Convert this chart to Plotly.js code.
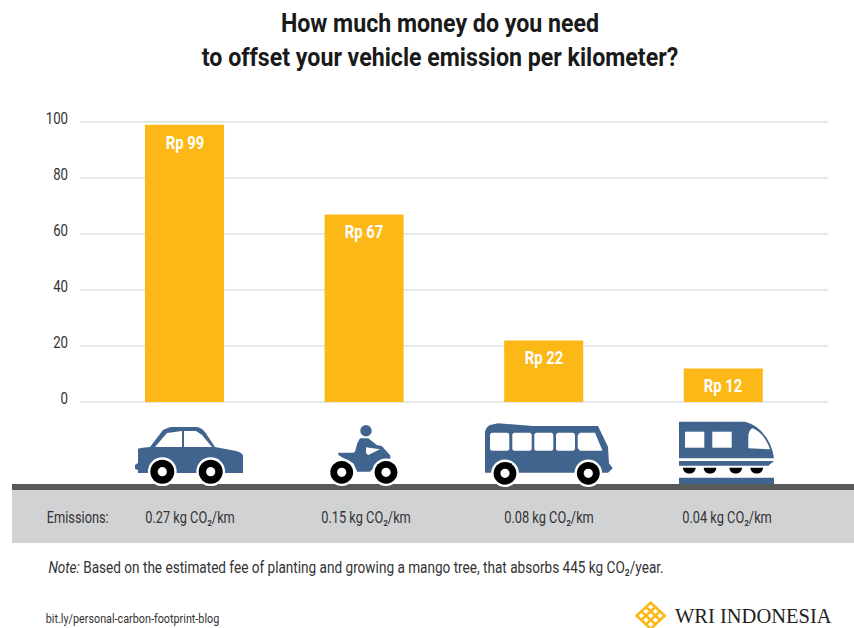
<!DOCTYPE html>
<html>
<head>
<meta charset="utf-8">
<script src="https://cdn.plot.ly/plotly-3.0.1.min.js"></script>
<style>html,body{margin:0;padding:0;background:#fff}#chart{width:854px;height:628px}</style>
</head>
<body>
<div id="chart"></div>
<script>
// Data
const vehicles = ["Car", "Motorcycle", "Bus", "Train"];
const offsetCost = [99, 67, 22, 12];
const costLabels = ["Rp 99", "Rp 67", "Rp 22", "Rp 12"];
const emissionLabels = ["0.27 kg CO₂/km", "0.15 kg CO₂/km", "0.08 kg CO₂/km", "0.04 kg CO₂/km"];
const yTicks = [0, 20, 40, 60, 80, 100];

// Page geometry
const W = 854, H = 628;
const SANS = 'Roboto, "Liberation Sans", sans-serif';
const BLUE = "#41648f", AMBER = "#fbb817", INK = "#333333";
const plotBox = {left: 80, right: 828, top: 119.2, bottom: 402};
const yRange = [0, 101];
const emissionCentres = [190, 366, 549, 727];

const fx = x => +(x / W).toFixed(5);
const fy = y => +(1 - y / H).toFixed(5);

// Turns an absolute page-pixel path into paper coordinates
function toPaper(d) {
  return d.replace(/(-?[\d.]+),(-?[\d.]+)/g, (_, x, y) => fx(+x) + "," + fy(+y));
}
function poly(pts) { return "M" + pts.join(" L") + " Z"; }
function pathShape(d, fill) {
  return {type: "path", xref: "paper", yref: "paper", path: toPaper(d), fillcolor: fill, line: {width: 0}, layer: "above"};
}
function rectShape(x0, y0, x1, y1, fill) {
  return {type: "rect", xref: "paper", yref: "paper", x0: fx(x0), x1: fx(x1), y0: fy(y1), y1: fy(y0), fillcolor: fill, line: {width: 0}, layer: "above"};
}
function circle(cx, cy, r, fill) {
  return {type: "circle", xref: "paper", yref: "paper", x0: fx(cx - r), x1: fx(cx + r), y0: fy(cy + r), y1: fy(cy - r), fillcolor: fill, line: {width: 0}, layer: "above"};
}
function wheel(cx, cy, r) {
  return [circle(cx, cy, r + 2.4, "#ffffff"), circle(cx, cy, r, "#000000"), circle(cx, cy, 4.6, "#ffffff")];
}
function roundBox(x0, y0, x1, y1, r) {
  return `M${x0 + r},${y0} L${x1 - r},${y0} Q${x1},${y0} ${x1},${y0 + r} L${x1},${y1 - r} Q${x1},${y1} ${x1 - r},${y1} L${x0 + r},${y1} Q${x0},${y1} ${x0},${y1 - r} L${x0},${y0 + r} Q${x0},${y0} ${x0 + r},${y0} Z`;
}
function halfDisc(cx, top, r) {
  return `M${cx - r},${top} L${cx + r},${top} C${cx + r},${top + r * 1.25} ${cx - r},${top + r * 1.25} ${cx - r},${top} Z`;
}

// Vehicle pictograms
const car = [
  pathShape("M135,465 L138,463 L138,449 Q138,448 150,447 L163,430 Q167,428 171,427 L197,427 Q202,428 205,432 L215,447 L236,451 Q243,453 243,456 L243,473 L138,473 L138,470 L135,469 Z", BLUE),
  pathShape(poly(["155,447", "167,433", "182,431", "182,447"]), "#ffffff"),
  pathShape(poly(["184,431", "196,431", "202,435", "212,447", "184,447"]), "#ffffff"),
  ...wheel(162.3, 471.7, 12), ...wheel(210.7, 471.7, 12)
];
const motorcycle = [
  circle(366, 430.7, 5.7, BLUE),
  pathShape(poly(["357.3,443.3", "360,438.3", "368.3,438.3", "376.7,445", "381.7,446", "390,455", "390.7,458.3", "380,461.7", "370,471.7", "357.3,471.7", "353.3,463.3", "346.7,460", "338.3,455", "338.3,452.7", "353.3,452.7", "355,451.7"]), BLUE),
  pathShape(poly(["366,447.3", "380,449.3", "368.3,455", "366,453.3"]), "#ffffff"),
  ...wheel(341.7, 472.3, 11.4), ...wheel(386, 472.3, 11.4)
];
const bus = [
  pathShape("M485,431.7 Q486,427 490,425 L498,423.3 L533,426 L598,426 L608,446.7 L609,463.3 L612.7,468.3 L608,472.7 L485,472.7 Z", BLUE),
  pathShape(roundBox(490, 432.7, 509.3, 450.7, 2.5), "#ffffff"),
  pathShape(roundBox(512.3, 432.7, 531.7, 450.7, 2.5), "#ffffff"),
  pathShape(roundBox(534.3, 432.7, 553.3, 450.7, 2.5), "#ffffff"),
  pathShape(roundBox(556, 432.7, 575, 450.7, 2.5), "#ffffff"),
  pathShape(poly(["580,432.7", "595,432.7", "602.5,450.7", "580,450.7", "577.7,448", "577.7,435"]), "#ffffff"),
  ...wheel(505, 473.3, 11.4), ...wheel(588.3, 473.3, 11.4)
];
const train = [
  pathShape("M679,421.7 L745,421.7 Q754,424 760,430 Q772,442 774,458.3 L679,458.3 Z", BLUE),
  rectShape(685, 431.7, 704.3, 447.7, "#ffffff"),
  rectShape(712.3, 431.7, 731.7, 447.7, "#ffffff"),
  pathShape("M748.3,448.3 L748.3,435 Q750,428 753,428.3 Q765,434 770,449.3 Z", "#ffffff"),
  pathShape(poly(["679,461", "774,461", "768.3,465.7", "679,465.7"]), BLUE),
  ...[689.3, 710, 735.7, 756.7].map(x => pathShape(halfDisc(x, 467.7, 6.3), "#000000")),
  rectShape(679, 477.7, 774, 484, BLUE)
];

// Woven diamond of the logo
function logoMark(cx, cy, rx, ry) {
  const out = [];
  const at = (u, v) => (cx + (u - v) * rx / 2) + "," + (cy + (u + v) * ry / 2);
  [-0.9, -0.3, 0.3, 0.9].forEach(k => {
    const segA = `M${at(k, -1)} L${at(k, 1)}`;
    const segB = `M${at(-1, k)} L${at(1, k)}`;
    [segA, segB].forEach(d => out.push({type: "path", xref: "paper", yref: "paper", path: toPaper(d), line: {color: AMBER, width: 2.6}, layer: "above"}));
  });
  return out;
}

const shapes = [
  rectShape(12, 490, W, 543, "#d1d2d4"),
  rectShape(12, 484, W, 490, "#58595b"),
  ...car, ...motorcycle, ...bus, ...train,
  ...logoMark(650.7, 615.7, 15.5, 14.5)
];

function pageText(x, y, text, size, opts) {
  return Object.assign({
    xref: "paper", yref: "paper", x: fx(x), y: fy(y), text: text, showarrow: false,
    xanchor: "center", yanchor: "middle", borderpad: 0,
    font: {family: SANS, size: size, color: INK}
  }, opts || {});
}

const annotations = [
  // Values on the bars
  ...vehicles.map((v, i) => ({
    xref: "x", yref: "y", x: v, y: offsetCost[i], yshift: -18, text: costLabels[i], showarrow: false,
    font: {family: SANS, size: 18.5, color: "#ffffff", weight: 700}
  })),
  // Emission strip
  pageText(78, 517, "Emissions:", 16),
  ...emissionLabels.map((t, i) => pageText(emissionCentres[i], 517, t, 16)),
  // Footer
  pageText(355.5, 567, "<i>Note:</i> Based on the estimated fee of planting and growing a mango tree, that absorbs 445 kg CO₂/year.", 17),
  pageText(132.5, 618, "bit.ly/personal-carbon-footprint-blog", 13.5),
  pageText(753.5, 616, "WRI INDONESIA", 20.5, {font: {family: '"Liberation Serif", serif', size: 20.5, color: "#231f20"}})
];

const layout = {
  width: W, height: H,
  margin: {l: 0, r: 0, t: 0, b: 0},
  paper_bgcolor: "#ffffff", plot_bgcolor: "rgba(0,0,0,0)",
  showlegend: false,
  bargap: 0.56,
  title: {
    text: "How much money do you need<br>to offset your vehicle emission per kilometer?",
    font: {family: SANS, size: 26.5, color: "#1a1a1a", weight: 700},
    x: 440 / W, xanchor: "center", y: fy(32), yanchor: "top", yref: "paper"
  },
  xaxis: {
    type: "category", categoryorder: "array", categoryarray: vehicles,
    domain: [plotBox.left / W, plotBox.right / W],
    range: [-0.582, 3.583],
    showticklabels: false, ticks: "", showgrid: false, zeroline: false, showline: false, fixedrange: true
  },
  yaxis: {
    domain: [fy(plotBox.bottom), fy(plotBox.top)],
    range: yRange, tickvals: yTicks, showticklabels: false, ticks: "",
    showgrid: true, gridcolor: "#e6e7e8", gridwidth: 1.6,
    zeroline: true, zerolinecolor: "#e6e7e8", zerolinewidth: 1.6, showline: false, fixedrange: true
  },
  // Tick labels sit just above their gridlines, so they live on a raised twin axis
  yaxis2: {
    anchor: "free", position: plotBox.left / W, side: "left",
    domain: [fy(plotBox.bottom - 4), fy(plotBox.top - 4)],
    range: yRange, tickvals: yTicks, showgrid: false, zeroline: false, showline: false,
    ticks: "", ticklabelstandoff: 12, fixedrange: true,
    tickfont: {family: SANS, size: 16.5, color: INK}
  },
  shapes: shapes,
  annotations: annotations
};

const traces = [
  {type: "bar", x: vehicles, y: offsetCost, marker: {color: AMBER, line: {width: 0}}, hoverinfo: "skip"},
  // Carries the raised axis; nothing of it is visible
  {type: "scatter", mode: "markers", x: vehicles, y: offsetCost, yaxis: "y2", marker: {opacity: 0}, hoverinfo: "skip"}
];

// The house typeface is condensed, so the sans text is narrowed around its anchor
function narrowing(t) {
  if (t.textContent.indexOf("WRI") === 0) return 1;
  if (t.classList.contains("gtitle")) return 0.875;
  if (t.closest(".ytick")) return 0.72;
  return 0.8;
}
function condenseText(root) {
  root.querySelectorAll("svg text").forEach(t => {
    const s = narrowing(t);
    if (s === 1) return;
    const x = parseFloat(t.getAttribute("x")) || 0;
    const prior = t.getAttribute("transform") || "";
    t.setAttribute("transform", `${prior} translate(${x * (1 - s)},0) scale(${s},1)`);
  });
}

Plotly.newPlot("chart", traces, layout, {displayModeBar: false, staticPlot: true})
  .then(gd => condenseText(gd));
</script>
</body>
</html>
